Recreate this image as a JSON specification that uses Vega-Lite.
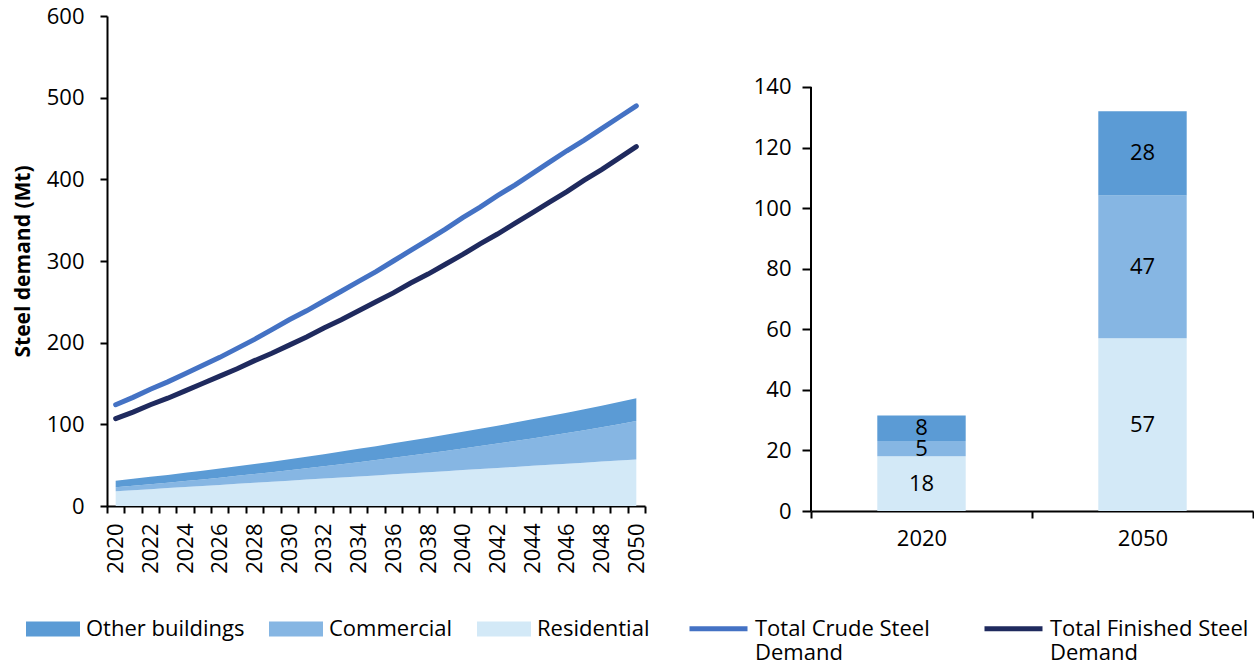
{
  "$schema": "https://vega.github.io/schema/vega-lite/v6.json",
  "padding": {"left": 12, "top": 5, "right": 0, "bottom": 0},
  "config": {
    "view": {"stroke": null},
    "font": "Open Sans",
    "axis": {"labelFont": "Open Sans", "labelFontSize": 22, "labelColor": "black", "domainColor": "black", "tickColor": "black", "domainWidth": 2, "tickWidth": 2, "grid": false, "titleColor": "black", "titleFont": "Open Sans"},
    "legend": {"labelFont": "Open Sans", "labelFontSize": 22, "labelColor": "black", "padding": 0, "labelLimit": 400}
  },
  "datasets": {
    "areas": [
      {"year": 2020, "cat": "Residential", "value": 18.0}, {"year": 2021, "cat": "Residential", "value": 19.3}, {"year": 2022, "cat": "Residential", "value": 20.6}, {"year": 2023, "cat": "Residential", "value": 21.9}, {"year": 2024, "cat": "Residential", "value": 23.2}, {"year": 2025, "cat": "Residential", "value": 24.5}, {"year": 2026, "cat": "Residential", "value": 25.8}, {"year": 2027, "cat": "Residential", "value": 27.1}, {"year": 2028, "cat": "Residential", "value": 28.4}, {"year": 2029, "cat": "Residential", "value": 29.7}, {"year": 2030, "cat": "Residential", "value": 31.0}, {"year": 2031, "cat": "Residential", "value": 32.3}, {"year": 2032, "cat": "Residential", "value": 33.6}, {"year": 2033, "cat": "Residential", "value": 34.9}, {"year": 2034, "cat": "Residential", "value": 36.2}, {"year": 2035, "cat": "Residential", "value": 37.5}, {"year": 2036, "cat": "Residential", "value": 38.8}, {"year": 2037, "cat": "Residential", "value": 40.1}, {"year": 2038, "cat": "Residential", "value": 41.4}, {"year": 2039, "cat": "Residential", "value": 42.7}, {"year": 2040, "cat": "Residential", "value": 44.0}, {"year": 2041, "cat": "Residential", "value": 45.3}, {"year": 2042, "cat": "Residential", "value": 46.6}, {"year": 2043, "cat": "Residential", "value": 47.9}, {"year": 2044, "cat": "Residential", "value": 49.2}, {"year": 2045, "cat": "Residential", "value": 50.5}, {"year": 2046, "cat": "Residential", "value": 51.8}, {"year": 2047, "cat": "Residential", "value": 53.1}, {"year": 2048, "cat": "Residential", "value": 54.4}, {"year": 2049, "cat": "Residential", "value": 55.7}, {"year": 2050, "cat": "Residential", "value": 57.0},
      {"year": 2020, "cat": "Commercial", "value": 5.0}, {"year": 2021, "cat": "Commercial", "value": 5.5}, {"year": 2022, "cat": "Commercial", "value": 6.1}, {"year": 2023, "cat": "Commercial", "value": 6.7}, {"year": 2024, "cat": "Commercial", "value": 7.4}, {"year": 2025, "cat": "Commercial", "value": 8.1}, {"year": 2026, "cat": "Commercial", "value": 8.9}, {"year": 2027, "cat": "Commercial", "value": 9.8}, {"year": 2028, "cat": "Commercial", "value": 10.7}, {"year": 2029, "cat": "Commercial", "value": 11.7}, {"year": 2030, "cat": "Commercial", "value": 12.7}, {"year": 2031, "cat": "Commercial", "value": 13.8}, {"year": 2032, "cat": "Commercial", "value": 15.0}, {"year": 2033, "cat": "Commercial", "value": 16.2}, {"year": 2034, "cat": "Commercial", "value": 17.5}, {"year": 2035, "cat": "Commercial", "value": 18.8}, {"year": 2036, "cat": "Commercial", "value": 20.2}, {"year": 2037, "cat": "Commercial", "value": 21.7}, {"year": 2038, "cat": "Commercial", "value": 23.2}, {"year": 2039, "cat": "Commercial", "value": 24.8}, {"year": 2040, "cat": "Commercial", "value": 26.4}, {"year": 2041, "cat": "Commercial", "value": 28.1}, {"year": 2042, "cat": "Commercial", "value": 29.9}, {"year": 2043, "cat": "Commercial", "value": 31.7}, {"year": 2044, "cat": "Commercial", "value": 33.6}, {"year": 2045, "cat": "Commercial", "value": 35.6}, {"year": 2046, "cat": "Commercial", "value": 37.6}, {"year": 2047, "cat": "Commercial", "value": 39.7}, {"year": 2048, "cat": "Commercial", "value": 41.9}, {"year": 2049, "cat": "Commercial", "value": 44.4}, {"year": 2050, "cat": "Commercial", "value": 47.0},
      {"year": 2020, "cat": "Other buildings", "value": 8.0}, {"year": 2021, "cat": "Other buildings", "value": 8.5}, {"year": 2022, "cat": "Other buildings", "value": 9.0}, {"year": 2023, "cat": "Other buildings", "value": 9.5}, {"year": 2024, "cat": "Other buildings", "value": 10.0}, {"year": 2025, "cat": "Other buildings", "value": 10.5}, {"year": 2026, "cat": "Other buildings", "value": 11.1}, {"year": 2027, "cat": "Other buildings", "value": 11.7}, {"year": 2028, "cat": "Other buildings", "value": 12.3}, {"year": 2029, "cat": "Other buildings", "value": 12.9}, {"year": 2030, "cat": "Other buildings", "value": 13.5}, {"year": 2031, "cat": "Other buildings", "value": 14.2}, {"year": 2032, "cat": "Other buildings", "value": 14.9}, {"year": 2033, "cat": "Other buildings", "value": 15.6}, {"year": 2034, "cat": "Other buildings", "value": 16.3}, {"year": 2035, "cat": "Other buildings", "value": 17.0}, {"year": 2036, "cat": "Other buildings", "value": 17.7}, {"year": 2037, "cat": "Other buildings", "value": 18.4}, {"year": 2038, "cat": "Other buildings", "value": 19.1}, {"year": 2039, "cat": "Other buildings", "value": 19.8}, {"year": 2040, "cat": "Other buildings", "value": 20.5}, {"year": 2041, "cat": "Other buildings", "value": 21.2}, {"year": 2042, "cat": "Other buildings", "value": 21.9}, {"year": 2043, "cat": "Other buildings", "value": 22.6}, {"year": 2044, "cat": "Other buildings", "value": 23.3}, {"year": 2045, "cat": "Other buildings", "value": 24.0}, {"year": 2046, "cat": "Other buildings", "value": 24.8}, {"year": 2047, "cat": "Other buildings", "value": 25.6}, {"year": 2048, "cat": "Other buildings", "value": 26.4}, {"year": 2049, "cat": "Other buildings", "value": 27.2}, {"year": 2050, "cat": "Other buildings", "value": 28.0}
    ],
    "lines": [
      {"year": 2020, "series": "Total Crude Steel Demand", "value": 124}, {"year": 2021, "series": "Total Crude Steel Demand", "value": 133}, {"year": 2022, "series": "Total Crude Steel Demand", "value": 143}, {"year": 2023, "series": "Total Crude Steel Demand", "value": 152}, {"year": 2024, "series": "Total Crude Steel Demand", "value": 162}, {"year": 2025, "series": "Total Crude Steel Demand", "value": 172}, {"year": 2026, "series": "Total Crude Steel Demand", "value": 182}, {"year": 2027, "series": "Total Crude Steel Demand", "value": 193}, {"year": 2028, "series": "Total Crude Steel Demand", "value": 204}, {"year": 2029, "series": "Total Crude Steel Demand", "value": 216}, {"year": 2030, "series": "Total Crude Steel Demand", "value": 228}, {"year": 2031, "series": "Total Crude Steel Demand", "value": 239}, {"year": 2032, "series": "Total Crude Steel Demand", "value": 251}, {"year": 2033, "series": "Total Crude Steel Demand", "value": 263}, {"year": 2034, "series": "Total Crude Steel Demand", "value": 275}, {"year": 2035, "series": "Total Crude Steel Demand", "value": 287}, {"year": 2036, "series": "Total Crude Steel Demand", "value": 300}, {"year": 2037, "series": "Total Crude Steel Demand", "value": 313}, {"year": 2038, "series": "Total Crude Steel Demand", "value": 326}, {"year": 2039, "series": "Total Crude Steel Demand", "value": 339}, {"year": 2040, "series": "Total Crude Steel Demand", "value": 353}, {"year": 2041, "series": "Total Crude Steel Demand", "value": 366}, {"year": 2042, "series": "Total Crude Steel Demand", "value": 380}, {"year": 2043, "series": "Total Crude Steel Demand", "value": 393}, {"year": 2044, "series": "Total Crude Steel Demand", "value": 407}, {"year": 2045, "series": "Total Crude Steel Demand", "value": 421}, {"year": 2046, "series": "Total Crude Steel Demand", "value": 435}, {"year": 2047, "series": "Total Crude Steel Demand", "value": 448}, {"year": 2048, "series": "Total Crude Steel Demand", "value": 462}, {"year": 2049, "series": "Total Crude Steel Demand", "value": 476}, {"year": 2050, "series": "Total Crude Steel Demand", "value": 490},
      {"year": 2020, "series": "Total Finished Steel Demand", "value": 107}, {"year": 2021, "series": "Total Finished Steel Demand", "value": 115}, {"year": 2022, "series": "Total Finished Steel Demand", "value": 124}, {"year": 2023, "series": "Total Finished Steel Demand", "value": 132}, {"year": 2024, "series": "Total Finished Steel Demand", "value": 141}, {"year": 2025, "series": "Total Finished Steel Demand", "value": 150}, {"year": 2026, "series": "Total Finished Steel Demand", "value": 159}, {"year": 2027, "series": "Total Finished Steel Demand", "value": 168}, {"year": 2028, "series": "Total Finished Steel Demand", "value": 178}, {"year": 2029, "series": "Total Finished Steel Demand", "value": 187}, {"year": 2030, "series": "Total Finished Steel Demand", "value": 197}, {"year": 2031, "series": "Total Finished Steel Demand", "value": 207}, {"year": 2032, "series": "Total Finished Steel Demand", "value": 218}, {"year": 2033, "series": "Total Finished Steel Demand", "value": 228}, {"year": 2034, "series": "Total Finished Steel Demand", "value": 239}, {"year": 2035, "series": "Total Finished Steel Demand", "value": 250}, {"year": 2036, "series": "Total Finished Steel Demand", "value": 261}, {"year": 2037, "series": "Total Finished Steel Demand", "value": 273}, {"year": 2038, "series": "Total Finished Steel Demand", "value": 284}, {"year": 2039, "series": "Total Finished Steel Demand", "value": 296}, {"year": 2040, "series": "Total Finished Steel Demand", "value": 308}, {"year": 2041, "series": "Total Finished Steel Demand", "value": 321}, {"year": 2042, "series": "Total Finished Steel Demand", "value": 333}, {"year": 2043, "series": "Total Finished Steel Demand", "value": 346}, {"year": 2044, "series": "Total Finished Steel Demand", "value": 359}, {"year": 2045, "series": "Total Finished Steel Demand", "value": 372}, {"year": 2046, "series": "Total Finished Steel Demand", "value": 385}, {"year": 2047, "series": "Total Finished Steel Demand", "value": 399}, {"year": 2048, "series": "Total Finished Steel Demand", "value": 412}, {"year": 2049, "series": "Total Finished Steel Demand", "value": 426}, {"year": 2050, "series": "Total Finished Steel Demand", "value": 440}
    ],
    "bars": [
      {"year": "2020", "cat": "Residential", "value": 18.1},
      {"year": "2020", "cat": "Commercial", "value": 5.0},
      {"year": "2020", "cat": "Other buildings", "value": 8.4},
      {"year": "2050", "cat": "Residential", "value": 57.0},
      {"year": "2050", "cat": "Commercial", "value": 47.2},
      {"year": "2050", "cat": "Other buildings", "value": 27.8}
    ]
  },
  "resolve": {"scale": {"color": "shared"}},
  "spacing": 105,
  "hconcat": [
    {
      "width": 538,
      "height": 490,
      "layer": [
        {
          "data": {"name": "areas"},
          "transform": [{"calculate": "indexof(['Residential','Commercial','Other buildings'], datum.cat)", "as": "ord"}],
          "mark": {"type": "area", "opacity": 1},
          "encoding": {
            "x": {"field": "year", "type": "ordinal", "scale": {"type": "band", "paddingInner": 0, "paddingOuter": 0},
              "axis": {"title": null, "labelAngle": -90, "tickBand": "extent", "tickSize": 7, "labelPadding": 10, "labelExpr": "datum.value % 2 == 0 ? datum.label : ''"}},
            "y": {"field": "value", "type": "quantitative", "stack": "zero", "scale": {"domain": [0, 600], "nice": false},
              "axis": {"title": "Steel demand (Mt)", "titleFontSize": 21, "titleFontWeight": "bold", "titlePadding": 13, "values": [0, 100, 200, 300, 400, 500, 600], "tickSize": 7, "labelPadding": 16}},
            "color": {"field": "cat", "type": "nominal",
              "scale": {"domain": ["Other buildings", "Commercial", "Residential"], "range": ["#5B9BD5", "#86B6E3", "#D3E9F7"]},
              "legend": {"orient": "none", "legendX": -81, "legendY": 586, "direction": "horizontal", "title": null, "symbolType": "M-1,-0.278H1V0.278H-1Z", "symbolSize": 2916, "symbolStrokeWidth": 0, "symbolOpacity": 1, "labelOffset": 6, "columnPadding": 24}},
            "order": {"field": "ord", "type": "quantitative"}
          }
        },
        {
          "data": {"name": "lines"},
          "mark": {"type": "line", "strokeWidth": 5, "strokeCap": "round"},
          "encoding": {
            "x": {"field": "year", "type": "ordinal"},
            "y": {"field": "value", "type": "quantitative", "stack": null},
            "stroke": {"field": "series", "type": "nominal",
              "scale": {"domain": ["Total Crude Steel Demand", "Total Finished Steel Demand"], "range": ["#4472C4", "#1F2A5E"]},
              "legend": {"orient": "none", "legendX": 580, "legendY": 581, "direction": "horizontal", "title": null, "symbolType": "stroke", "symbolSize": 3364, "symbolStrokeWidth": 5, "labelOffset": 5, "columnPadding": 44,
                "labelExpr": "datum.label == 'Total Crude Steel Demand' ? ['Total Crude Steel', 'Demand'] : ['Total Finished Steel', 'Demand']"}}
          }
        }
      ]
    },
    {
      "width": 442,
      "height": 495,
      "data": {"name": "bars"},
      "transform": [
        {"calculate": "indexof(['Residential','Commercial','Other buildings'], datum.cat)", "as": "ord"},
        {"stack": "value", "groupby": ["year"], "sort": [{"field": "ord", "order": "ascending"}], "as": ["v0", "v1"]},
        {"calculate": "(datum.v0 + datum.v1) / 2", "as": "mid"}
      ],
      "layer": [
        {
          "mark": {"type": "bar", "width": {"band": 0.4}},
          "encoding": {
            "x": {"field": "year", "type": "nominal", "scale": {"type": "band", "paddingInner": 0, "paddingOuter": 0},
              "axis": {"title": null, "labelAngle": 0, "tickBand": "extent", "tickSize": 7, "labelPadding": 10}},
            "y": {"field": "v0", "type": "quantitative", "scale": {"domain": [0, 163.44], "nice": false},
              "axis": {"title": null, "values": [0, 20, 40, 60, 80, 100, 120, 140], "domain": false, "tickSize": 9, "labelPadding": 11}},
            "y2": {"field": "v1"},
            "color": {"field": "cat", "type": "nominal", "legend": null}
          }
        },
        {
          "mark": {"type": "text", "fontSize": 22, "color": "black", "font": "Open Sans"},
          "encoding": {
            "x": {"field": "year", "type": "nominal"},
            "y": {"field": "mid", "type": "quantitative"},
            "text": {"field": "value", "type": "quantitative", "format": ".0f"}
          }
        },
        {
          "data": {"values": [{}]},
          "mark": {"type": "rule", "strokeWidth": 2, "color": "black"},
          "encoding": {
            "x": {"datum": "2020", "type": "nominal", "bandPosition": 0},
            "y": {"datum": 0, "type": "quantitative"},
            "y2": {"datum": 140}
          }
        }
      ]
    }
  ]
}
